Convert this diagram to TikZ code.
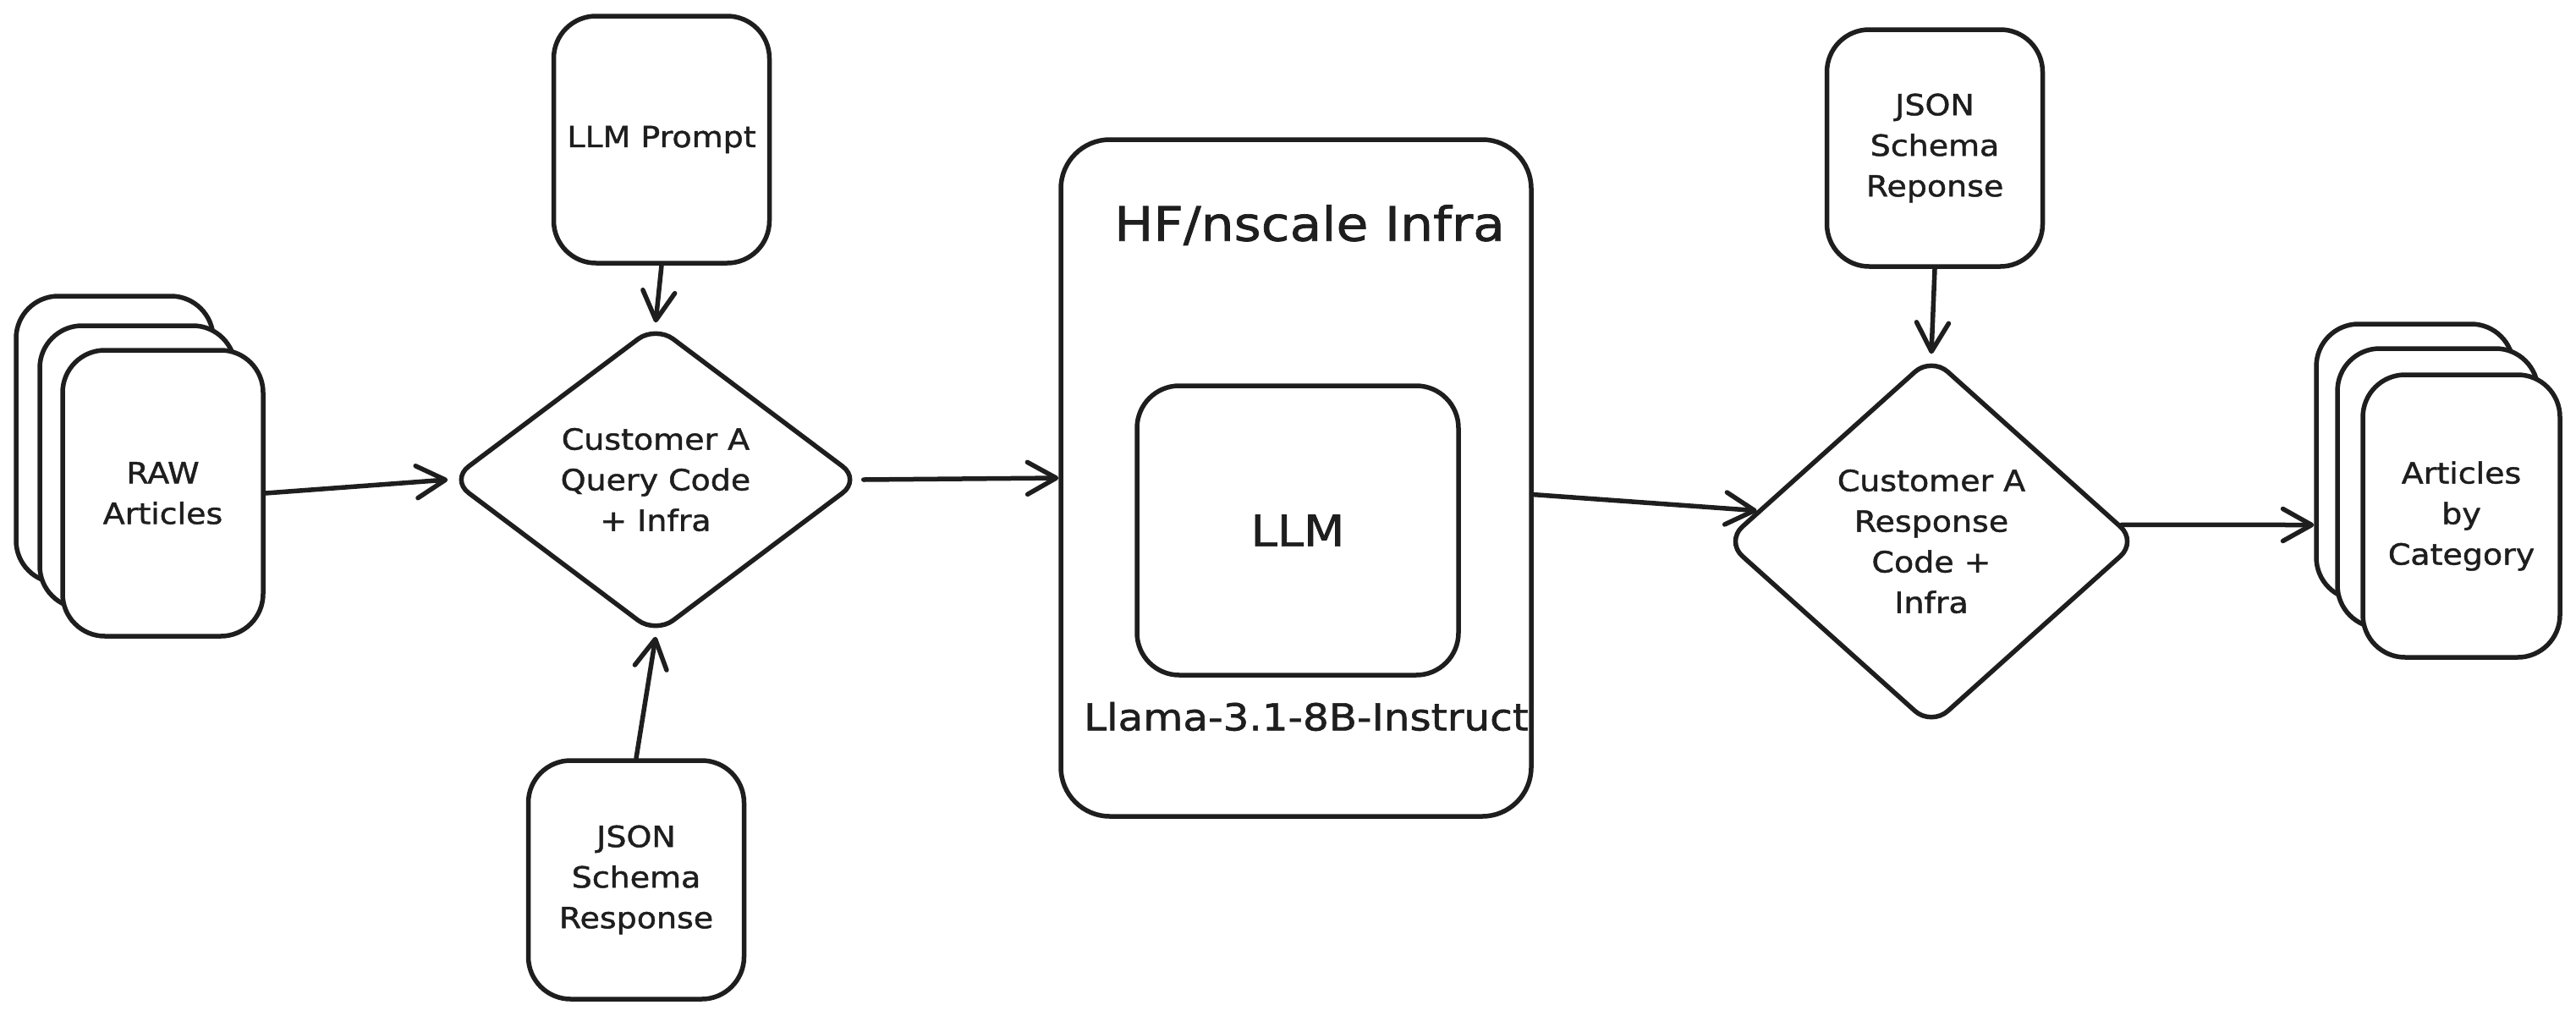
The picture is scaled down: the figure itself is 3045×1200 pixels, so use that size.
\documentclass[tikz,border=0pt]{standalone}
\usepackage{fontspec}
\newfontfamily\handfont{DejaVu Sans}[FakeStretch=1.1,FakeBold=1.3]
\usetikzlibrary{shapes.geometric,arrows.meta}
\definecolor{ink}{HTML}{1E1E1E}
\begin{document}
\begin{tikzpicture}[x=1pt,y=-1pt,
  txt/.style={text=ink, font=\handfont\fontsize{34.5}{48}\selectfont},
  card/.style={txt, draw=ink, line width=5.5pt, line join=round, fill=white, rounded corners=50pt, inner sep=0pt, align=center},
  dia/.style={txt, draw=ink, line width=5.5pt, fill=white, diamond, rounded corners=26pt, inner sep=0pt, align=center},
  flow/.style={draw=ink, line width=5.5pt, line cap=round, -{Straight Barb[length=34pt,width=38pt,round]}}
]
\useasboundingbox[fill=white] (0,0) rectangle (3045,1200);

% RAW articles stack
\node[card, minimum width=233pt, minimum height=339pt] (raw1) at (135.5,519.5) {};
\node[card, minimum width=231pt, minimum height=334pt] (raw2) at (162.5,552) {};
\node[card, minimum width=237pt, minimum height=338pt] (raw3) at (192.5,583) {RAW\\Articles};

% top / bottom inputs of first diamond
\node[card, minimum width=255pt, minimum height=292pt] (prompt) at (782,165) {LLM Prompt};
\node[card, minimum width=255pt, minimum height=282pt] (json1) at (752,1040) {JSON\\Schema\\Response};

% first diamond
\node[dia, minimum width=486pt, minimum height=366pt, shape aspect=1.33] (d1) at (775,567) {Customer A\\Query Code\\+ Infra};

% HF infra box
\node[card, rounded corners=58pt, minimum width=556pt, minimum height=800pt] (hf) at (1532,565) {};
\node[txt, font=\handfont\fontsize{56}{60}\selectfont] (hftitle) at (1548,266) {HF/nscale Infra};
\node[card, minimum width=380pt, minimum height=342pt, font=\handfont\fontsize{51}{56}\selectfont] (llm) at (1534,627) {LLM};
\node[txt, font=\handfont\fontsize{44}{50}\selectfont] (llama) at (1544,847) {Llama-3.1-8B-Instruct};

% second diamond and its input
\node[card, minimum width=255pt, minimum height=280pt] (json2) at (2287,175) {JSON\\Schema\\Reponse};
\node[dia, minimum width=488pt, minimum height=438pt, shape aspect=1.11] (d2) at (2283,640) {Customer A\\Response\\Code +\\Infra};

% Articles by category stack
\node[card, minimum width=233pt, minimum height=326pt] (art1) at (2854.5,546) {};
\node[card, minimum width=237pt, minimum height=330pt] (art2) at (2881.5,577) {};
\node[card, minimum width=233pt, minimum height=334pt] (art3) at (2909.5,610) {Articles\\by\\Category};

% connectors
\draw[flow] (raw3.east) -- (d1.west);
\draw[flow] (prompt.south) -- (d1.north);
\draw[flow] (json1.north) -- (d1.south);
\draw[flow] (d1.east) -- (hf.west);
\draw[flow] (hf.-4.7) -- (d2.170);
\draw[flow] (json2.south) -- (d2.north);
\draw[flow] (d2.5) -- (art1.212);
\end{tikzpicture}
\end{document}
